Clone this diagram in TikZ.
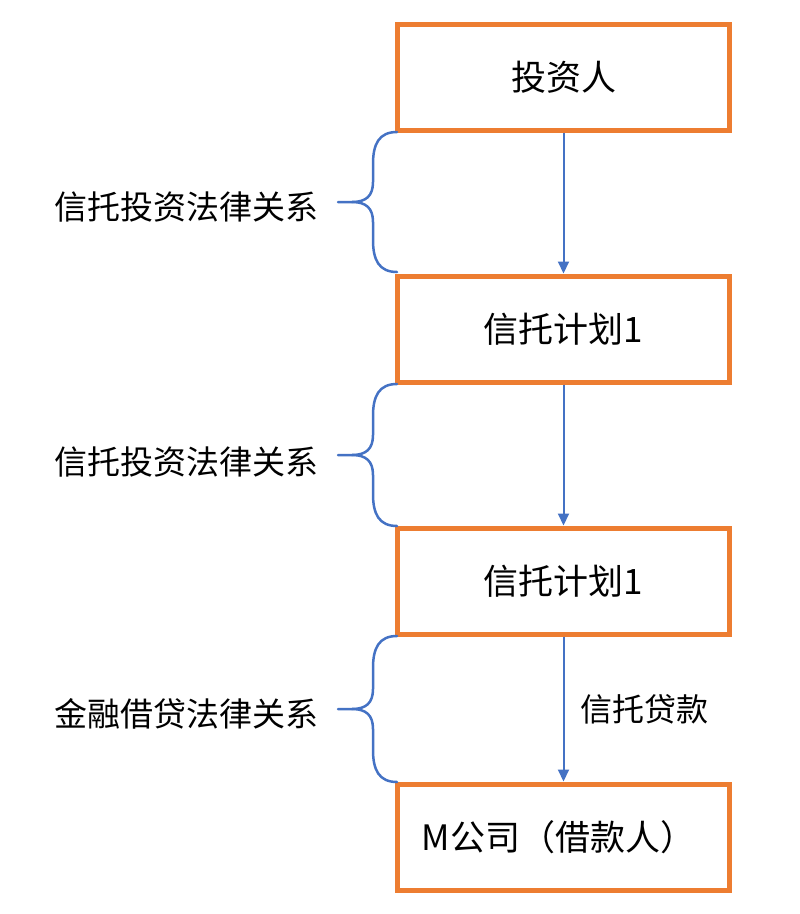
\documentclass[tikz,border=0pt]{standalone}
\usepackage{fontspec}
\setmainfont{Noto Sans CJK SC}
\usetikzlibrary{arrows.meta}
\definecolor{boxorange}{HTML}{ED7D31}
\definecolor{lineblue}{HTML}{4472C4}
\tikzset{
  flowbox/.style={draw=boxorange, line width=5pt, fill=white, minimum width=332pt, minimum height=106pt, inner sep=0pt, font=\fontsize{35}{42}\selectfont},
  flowarrow/.style={draw=lineblue, line width=2pt, -{Triangle[length=12pt,width=11pt]}},
  bracepath/.style={draw=lineblue, line width=2.5pt, line cap=round},
  bracelabel/.style={font=\fontsize{33}{39}\selectfont, inner sep=0pt},
}
\begin{document}
\begin{tikzpicture}[x=1pt,y=-1pt]
\useasboundingbox (0,0) rectangle (800,914);
\node[flowbox] (b1) at (563.5,77) {投资人};
\node[flowbox] (b2) at (563.5,329) {信托计划1};
\node[flowbox] (b3) at (563.5,581) {信托计划1};
\node[flowbox] (b4) at (563.5,837) {\hspace*{-10pt}M公司（借款人）};
\draw[flowarrow] (b1.south) -- (b2.north);
\draw[flowarrow] (b2.south) -- (b3.north);
\draw[flowarrow] (b3.south) -- (b4.north) node[midway, right=16pt, font=\fontsize{32}{38}\selectfont, inner sep=0pt] (loan) {信托贷款};
% braces
\foreach \t/\b/\n in {132/272/A, 384/526/B, 636/782/C}{
  \pgfmathsetmacro{\m}{(\t+\b)/2}
  \coordinate (top\n) at (397,\t);
  \coordinate (bot\n) at (397,\b);
  \coordinate (tip\n) at (338,\m);
  \draw[bracepath] (top\n) .. controls (379,\t) and (373,\t+12) .. (373,\t+32)
     -- (373,\m-20) .. controls (373,\m-6) and (366,\m) .. (352,\m) -- (tip\n);
  \draw[bracepath] (bot\n) .. controls (379,\b) and (373,\b-12) .. (373,\b-32)
     -- (373,\m+20) .. controls (373,\m+6) and (366,\m) .. (352,\m);
}
\node[bracelabel, anchor=east] (l1) at (319,207) {信托投资法律关系};
\node[bracelabel, anchor=east] (l2) at (319,462) {信托投资法律关系};
\node[bracelabel, anchor=east] (l3) at (319,714) {金融借贷法律关系};
\end{tikzpicture}
\end{document}
